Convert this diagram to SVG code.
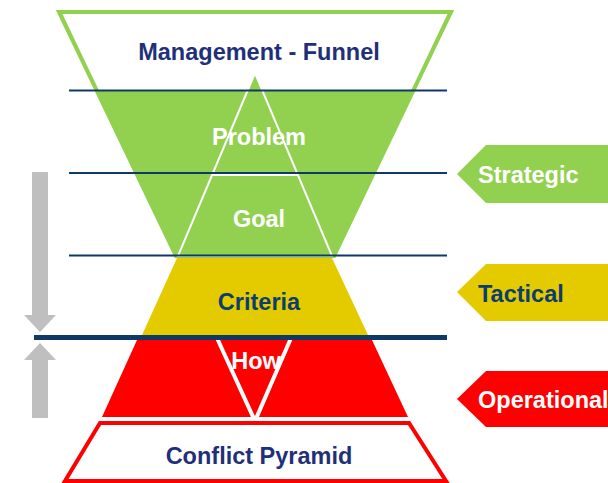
<svg xmlns="http://www.w3.org/2000/svg" width="608" height="483" viewBox="0 0 608 483">
<style>
.t{font-family:"Liberation Sans",Arial,sans-serif;font-weight:bold;font-size:23.5px}
.w{fill:#ffffff}
.n{fill:#1f307a}
.d{fill:#0d3d6e}
.nl{stroke:#0f3a66;stroke-width:2;fill:none}
.gray{fill:#bfbfbf}
</style>
<rect width="608" height="483" fill="#ffffff"/>
<g id="funnel">
<polygon points="59,12 451,12 334,256 176,256" fill="#92d050" stroke="#92d050" stroke-width="4" stroke-linejoin="miter"/>
<polygon points="62.5,14 447.5,14 411.3,90 98.7,90" fill="#ffffff"/>
<text class="t n" x="259" y="60" text-anchor="middle">Management - Funnel</text>
</g>
<g id="problem-goal">
<polygon points="255,73 178,256 332,256" fill="#92d050" stroke="#ffffff" stroke-width="2"/>
<line x1="212" y1="175" x2="298" y2="175" stroke="#ffffff" stroke-width="2"/>
<text class="t w" x="259" y="145" text-anchor="middle">Problem</text>
<text class="t w" x="259" y="227" text-anchor="middle">Goal</text>
</g>
<g id="criteria">
<polygon points="177,258 332,258 368,335 142,335" fill="#e3cb00"/>
<text class="t d" x="259" y="310" text-anchor="middle">Criteria</text>
</g>
<g id="how">
<polygon points="137,340 372,340 408,417 102,417" fill="#ff0000"/>
<polyline points="217,338 255,421 291,338" fill="none" stroke="#ffffff" stroke-width="4"/>
<text class="t w" x="256" y="369" text-anchor="middle">How</text>
</g>
<g id="conflict-pyramid">
<polygon points="100,423 409,423 446,481 65,481" fill="#ffffff" stroke="#ff0000" stroke-width="4"/>
<text class="t n" x="259" y="464" text-anchor="middle">Conflict Pyramid</text>
</g>
<g id="levels">
<line class="nl" x1="69" y1="90.5" x2="447" y2="90.5"/>
<line class="nl" x1="69" y1="173" x2="447" y2="173"/>
<line class="nl" x1="69" y1="255.5" x2="447" y2="255.5"/>
<line x1="34" y1="337.5" x2="447" y2="337.5" stroke="#0f3a66" stroke-width="5"/>
</g>
<g id="strategic">
<polygon points="457,174 486,145 608,145 608,203 486,203" fill="#92d050"/>
<text class="t w" x="478" y="183">Strategic</text>
</g>
<g id="tactical">
<polygon points="457,292 486,264 608,264 608,321 486,321" fill="#e3cb00"/>
<text class="t d" x="478" y="302">Tactical</text>
</g>
<g id="operational">
<polygon points="457,399 486,371 608,371 608,427 486,427" fill="#ff0000"/>
<text class="t w" x="478" y="408">Operational</text>
</g>
<g id="connectors">
<polygon class="gray" points="32,172 48,172 48,315 56,315 40,332 24,315 32,315"/>
<polygon class="gray" points="40,343 56,360 48,360 48,418 32,418 32,360 24,360"/>
</g>
</svg>
